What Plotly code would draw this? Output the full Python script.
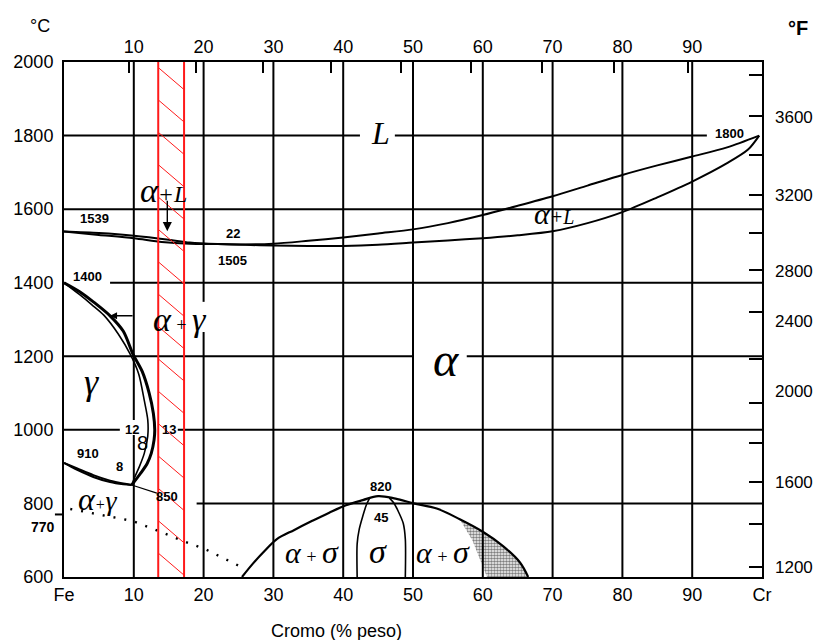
import plotly.graph_objects as go

# ---------------- Fe-Cr equilibrium data (wt% Cr, deg C) ----------------
# liquidus and solidus
liq_x = [0, 5, 10, 15, 18, 22, 26, 30, 35, 40, 45, 50, 55, 60, 65, 70, 75, 80, 85, 90, 95, 99.6]
liq_t = [1539, 1535, 1528, 1517, 1509, 1505, 1504, 1506, 1514, 1523, 1534, 1545, 1562, 1584, 1609,
         1635, 1664, 1693, 1719, 1743, 1768, 1800]
sol_x = [0, 5, 10, 14, 18, 22, 26, 30, 35, 40, 45, 50, 55, 60, 65, 70, 75, 80, 85, 90, 95, 98, 99.6]
sol_t = [1539, 1530, 1521, 1511, 1506, 1505, 1503, 1501, 1500, 1500, 1503, 1509, 1515, 1521, 1529,
         1540, 1562, 1592, 1632, 1675, 1725, 1762, 1800]

# gamma loop: (alpha+gamma)/alpha boundary and gamma/(alpha+gamma) boundary
loop_out_x = [0, 2.3, 4.2, 6.6, 8.5, 9.9, 11.2, 12.2, 12.8, 13.0, 12.9, 12.5, 11.9, 10.9, 9.7]
loop_out_t = [1400, 1375, 1348, 1310, 1268, 1205, 1159, 1100, 1045, 1000, 972, 936, 908, 880, 850]
loop_in_x = [0, 2.2, 4.0, 5.7, 7.8, 9.5, 10.7, 11.5, 12.0, 12.0, 11.5, 10.8, 10.1, 9.7]
loop_in_t = [1400, 1368, 1340, 1312, 1260, 1205, 1152, 1080, 1027, 983, 936, 900, 870, 850]
low_a_x = [0, 1.9, 4.2, 6.6, 8.5, 9.7]
low_a_t = [910, 895, 877, 862, 854, 850]
low_b_x = [0, 1.9, 4.2, 6.6, 8.5, 9.7]
low_b_t = [910, 891, 872, 858, 852, 850]

# sigma phase field
arch_x = [25.5, 27.0, 28.8, 30.5, 33.0, 35.5, 38.0, 40.4, 42.8, 45, 47.5, 50.1, 53.4, 56.7, 60,
          62.9, 65.3, 66.5]
arch_t = [600, 635, 672, 703, 728, 752, 775, 795, 809, 820, 813, 800, 786, 757, 723, 684, 640, 600]
sig_l_x = [42, 42, 42.3, 42.8, 43.3, 43.8]
sig_l_t = [600, 690, 730, 765, 795, 815]
sig_r_x = [46.6, 47.3, 47.9, 48.6, 48.9, 48.9]
sig_r_t = [815, 800, 778, 746, 703, 600]
stip_x = [56.7, 60, 62.9, 65.3, 66.5, 60.6, 58.5, 56.7]
stip_t = [757, 723, 684, 640, 600, 600, 700, 757]

# magnetic transition (dotted)
mag_x = [0.9, 9.9, 13.3, 17.3, 20.2, 25.2]
mag_t = [785, 752, 727, 696, 676, 629]

# stainless band (wt% Cr)
band_lo, band_hi = 13.5, 17.2

# axes
x_ticks = [0, 10, 20, 30, 40, 50, 60, 70, 80, 90, 100]
x_labels = ["Fe", "10", "20", "30", "40", "50", "60", "70", "80", "90", "Cr"]
top_labels = [10, 20, 30, 40, 50, 60, 70, 80, 90]
at_pct = [10, 20, 30, 40, 50, 60, 70, 80, 90]
y_ticks = [600, 800, 1000, 1200, 1400, 1600, 1800, 2000]
# Fahrenheit scale on the right (positions read on the Celsius axis)
f_tick_pos = [1965, 1853, 1747, 1639, 1536, 1435, 1321, 1193, 1074, 965, 857, 745, 626]
f_labels = ["3600", "3200", "2800", "2400", "2000", "1600", "1200"]
f_label_pos = [1848, 1636, 1430, 1294, 1104, 857, 626]

M_CR, M_FE = 52.0, 55.85
at_to_wt = [100 * a * M_CR / (a * M_CR + (100 - a) * M_FE) for a in at_pct]

BLACK = "black"
RED = "#ff1a1a"
SANS = "Liberation Sans"
SERIF = "Liberation Serif"

fig = go.Figure()


def curve(x, t, width=2, dash=None, color=BLACK, smooth=0.8):
    fig.add_trace(go.Scatter(x=x, y=t, mode="lines", showlegend=False, hoverinfo="skip",
                             line=dict(color=color, width=width, dash=dash, shape="spline",
                                       smoothing=smooth)))


# stippled two-phase wedge
fig.add_trace(go.Scatter(x=stip_x, y=stip_t, mode="lines", fill="toself", showlegend=False,
                         hoverinfo="skip", line=dict(width=0, color="rgba(0,0,0,0)"),
                         fillcolor="rgba(255,255,255,0)",
                         fillpattern=dict(shape=".", fgcolor=BLACK, size=3, solidity=0.6)))

curve(liq_x, liq_t, 2)
curve(sol_x, sol_t, 2)
curve(loop_out_x, loop_out_t, 3)
curve(loop_in_x, loop_in_t, 1.6)
curve(low_a_x, low_a_t, 2)
curve(low_b_x, low_b_t, 2)
curve(arch_x, arch_t, 2.2, smooth=1.0)
curve(sig_l_x, sig_l_t, 1.6)
curve(sig_r_x, sig_r_t, 1.6)
fig.add_trace(go.Scatter(x=mag_x, y=mag_t, mode="lines", showlegend=False, hoverinfo="skip",
                         line=dict(color=BLACK, width=2.4, dash="2px,9px")))

# invisible traces so that the overlaying axes are drawn
for xa, ya in (("x2", "y"), ("x3", "y"), ("x", "y2")):
    fig.add_trace(go.Scatter(x=[None], y=[None], xaxis=xa, yaxis=ya, showlegend=False,
                             hoverinfo="skip"))

shapes = []


def seg(x0, y0, x1, y1, color=BLACK, width=2, layer="below", dash=None):
    shapes.append(dict(type="line", xref="x", yref="y", x0=x0, y0=y0, x1=x1, y1=y1,
                       layer=layer, line=dict(color=color, width=width, dash=dash)))


# grid (interrupted where labels sit)
h_grid = [(1800, 0, 42.4), (1800, 47.4, 92.1), (1600, 0, 100), (1400, 6.6, 100),
          (1200, 0, 50), (1200, 57.7, 100), (1000, 0, 8.0), (1000, 16.3, 100), (800, 19, 100)]
for t, a, b in h_grid:
    seg(a, t, b, t)
v_grid = [(10, 2000, 1027), (10, 986, 600), (20, 2000, 1348), (20, 1266, 600)]
v_grid += [(v, 2000, 600) for v in (30, 40, 50, 60, 70, 80, 90)]
for v, a, b in v_grid:
    seg(v, a, v, b)

# red hatched band
seg(band_lo, 600, band_lo, 2000, RED, 2, "above")
seg(band_hi, 600, band_hi, 2000, RED, 2, "above")
t_start, t_step, t_drop = 1985, 88, 60
while t_start > 600:
    t_end = t_start - t_drop
    x_end = band_hi
    if t_end < 600:
        x_end = band_lo + (band_hi - band_lo) * (t_start - 600) / t_drop
        t_end = 600
    seg(band_lo, t_start, x_end, t_end, RED, 1, "above")
    t_start -= t_step

# leader for the 850 point
seg(9.7, 850, 13.3, 828, BLACK, 1.2, "above")
# Curie temperature tick on the left axis
shapes.append(dict(type="line", xref="paper", yref="y", x0=-0.013, x1=0, y0=770, y1=770,
                   line=dict(color=BLACK, width=2)))

ann = []


def txt(x, y, s, size=13, bold=True, family=SANS, xref="x", yref="y", **kw):
    ann.append(dict(x=x, y=y, xref=xref, yref=yref, text=f"<b>{s}</b>" if bold else s,
                    xanchor="center", yanchor="middle", showarrow=False,
                    font=dict(family=family, size=size, color=BLACK), **kw))


def phase(x, y, s, size=24):
    ann.append(dict(x=x, y=y, xref="x", yref="y", text=f"<i>{s}</i>", showarrow=False,
                    xanchor="center", yanchor="middle",
                    font=dict(family=SERIF, size=size, color=BLACK)))


# value labels
txt(4.4, 1575, "1539")
txt(24.2, 1534, "22")
txt(24.2, 1460, "1505")
txt(3.4, 1416, "1400")
txt(95.4, 1806, "1800")
txt(3.4, 936, "910")
txt(8.0, 900, "8")
txt(14.8, 819, "850")
txt(9.7, 1000, "12")
txt(15.0, 1000, "13")
txt(11.3, 964, "8", size=20, bold=False)
txt(45.4, 846, "820")
txt(45.4, 762, "45")
txt(-0.030, 736, "770", size=14, xref="paper")

# phase labels
phase(45.3, 1806, "L", 32)
phase(14.3, 1652, "<span style='font-size:34px'>α</span>+L", 24)
phase(70.2, 1589, "<span style='font-size:30px'>α</span>+L", 20)
phase(16.6, 1301, "<span style='font-size:34px'>α</span> + <span style='font-size:34px'>γ</span>", 18)
phase(4.0, 1131, "γ", 36)
phase(54.7, 1192, "α", 48)
phase(4.9, 811, "<span style='font-size:32px'>α</span>+<span style='font-size:28px'>γ</span>", 16)
phase(35.5, 668, "<span style='font-size:30px'>α</span> + <span style='font-size:32px'>σ</span>", 18)
phase(45.0, 668, "σ", 34)
phase(54.3, 668, "<span style='font-size:30px'>α</span> + <span style='font-size:32px'>σ</span>", 18)

# arrows
ann.append(dict(x=14.8, y=1540, xref="x", yref="y", ax=0, ay=-32, text="", showarrow=True,
                arrowhead=2, arrowsize=1.3, arrowwidth=1.4, arrowcolor=BLACK))
ann.append(dict(x=6.6, y=1310, xref="x", yref="y", ax=24, ay=0, text="", showarrow=True,
                arrowhead=2, arrowsize=1.0, arrowwidth=1.4, arrowcolor=BLACK))

# unit labels and axis title
txt(-0.034, 1.07, "°C", size=18, bold=False, xref="paper", yref="paper")
txt(1.0516, 1.066, "°F", size=20, bold=True, xref="paper", yref="paper")
txt(0.391, -0.105, "Cromo (% peso)", size=18, bold=False, xref="paper", yref="paper")
for lab, pos in zip(f_labels, f_label_pos):
    ann.append(dict(x=1, y=pos, xref="paper", yref="y", xanchor="left", yanchor="middle",
                    xshift=11, text=lab, showarrow=False,
                    font=dict(family=SANS, size=17, color=BLACK)))

axis_font = dict(family=SANS, size=18, color=BLACK)
fig.update_layout(
    width=819, height=640,
    margin=dict(l=64, r=57, t=62, b=63),
    paper_bgcolor="white", plot_bgcolor="white",
    showlegend=False,
    shapes=shapes, annotations=ann,
    xaxis=dict(range=[0, 100], tickvals=x_ticks, ticktext=x_labels, showgrid=False,
               zeroline=False, showline=True, linecolor=BLACK, linewidth=2, mirror=True,
               ticks="", tickfont=axis_font, ticklabelstandoff=0),
    xaxis2=dict(range=[0, 100], overlaying="x", side="top", tickvals=top_labels,
                ticktext=[str(v) for v in top_labels], showgrid=False, zeroline=False,
                showline=False, ticks="", tickfont=axis_font, ticklabelstandoff=4),
    xaxis3=dict(range=[0, 100], overlaying="x", side="top", tickvals=at_to_wt,
                showticklabels=False, showgrid=False, zeroline=False, showline=False,
                ticks="inside", ticklen=11, tickwidth=2, tickcolor=BLACK),
    yaxis=dict(range=[600, 2000], tickvals=y_ticks, showgrid=False, zeroline=False,
               showline=True, linecolor=BLACK, linewidth=2, mirror=True, ticks="",
               tickfont=axis_font, ticklabelstandoff=5),
    yaxis2=dict(range=[600, 2000], overlaying="y", side="right", tickvals=f_tick_pos,
                showticklabels=False, showgrid=False, zeroline=False, showline=False,
                ticks="inside", ticklen=13, tickwidth=2, tickcolor=BLACK),
)

fig.write_html("out.html")
